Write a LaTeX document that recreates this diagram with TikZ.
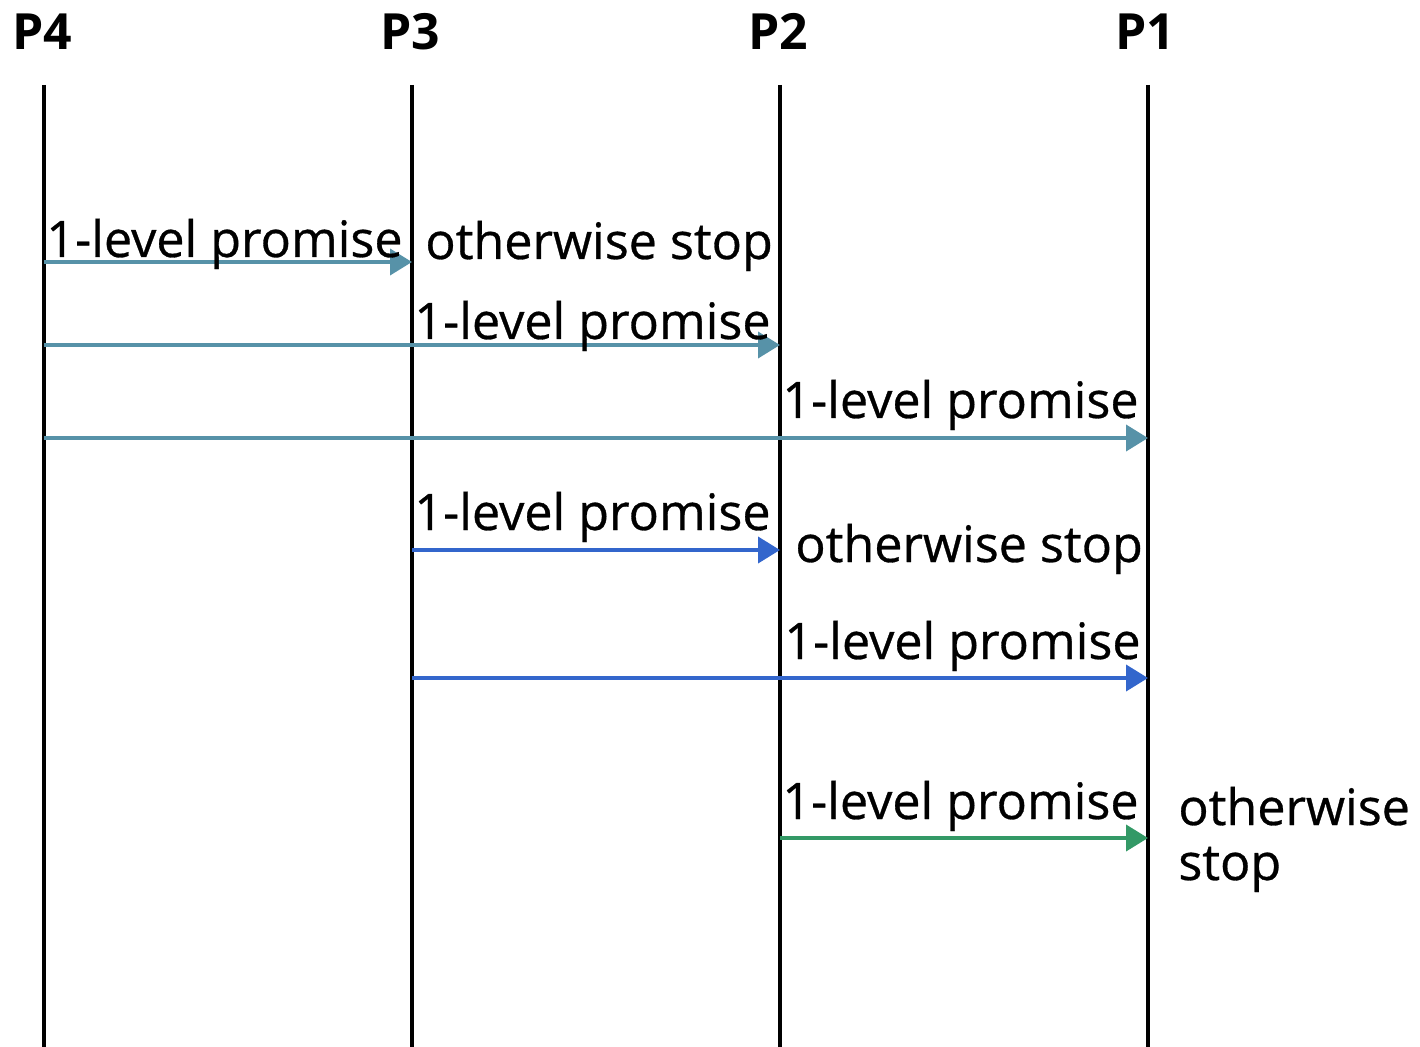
\documentclass[tikz,border=0pt]{standalone}
\usepackage{fontspec}
\setmainfont{Open Sans}
\usetikzlibrary{arrows.meta}

\definecolor{msgteal}{HTML}{5792A8}
\definecolor{msgblue}{HTML}{3366CC}
\definecolor{msggreen}{HTML}{339966}

\tikzset{
  lifeline/.style={line width=2.8pt, black},
  msg/.style={line width=2.2pt, -{Triangle[length=0.44cm, width=0.52cm]}},
  msglabel/.style={anchor=base west, inner sep=0pt, font=\fontsize{28.6}{31.3}\selectfont\addfontfeature{FakeBold=0.6}},
  proc/.style={anchor=base, inner sep=0pt, font=\fontsize{28.4}{34}\selectfont\bfseries}
}

\begin{document}
\begin{tikzpicture}[x=0.02cm, y=-0.02cm]
    \useasboundingbox (0,0) rectangle (1420,1047);

    % Process names
    \node[proc] (n4) at (42,50) {P4};
    \node[proc] (n3) at (410,50) {P3};
    \node[proc] (n2) at (778,50) {P2};
    \node[proc] (n1) at (1145,50) {P1};

    % Lifelines
    \coordinate (p4t) at (44,85);   \coordinate (p4b) at (44,1047);
    \coordinate (p3t) at (412,85);  \coordinate (p3b) at (412,1047);
    \coordinate (p2t) at (780,85);  \coordinate (p2b) at (780,1047);
    \coordinate (p1t) at (1148,85); \coordinate (p1b) at (1148,1047);
    \draw[lifeline] (p4t) -- (p4b);
    \draw[lifeline] (p3t) -- (p3b);
    \draw[lifeline] (p2t) -- (p2b);
    \draw[lifeline] (p1t) -- (p1b);

    % Messages from P4
    \coordinate (m1s) at (44,262);  \coordinate (m1e) at (412,262);
    \coordinate (m2s) at (44,345);  \coordinate (m2e) at (780,345);
    \coordinate (m3s) at (44,438);  \coordinate (m3e) at (1148,438);
    \draw[msg, msgteal] (m1s) -- (m1e);
    \draw[msg, msgteal] (m2s) -- (m2e);
    \draw[msg, msgteal] (m3s) -- (m3e);
    \node[msglabel] (l1) at (46,257) {1-level promise};
    \node[msglabel] (s1) at (425,259) {otherwise stop};
    \node[msglabel] (l2) at (414,339) {1-level promise};
    \node[msglabel] (l3) at (782,418) {1-level promise};

    % Messages from P3
    \coordinate (m4s) at (412,550); \coordinate (m4e) at (780,550);
    \coordinate (m5s) at (412,678); \coordinate (m5e) at (1148,678);
    \draw[msg, msgblue] (m4s) -- (m4e);
    \draw[msg, msgblue] (m5s) -- (m5e);
    \node[msglabel] (l4) at (414,530) {1-level promise};
    \node[msglabel] (s4) at (795,562) {otherwise stop};
    \node[msglabel] (l5) at (784,659) {1-level promise};

    % Message from P2
    \coordinate (m6s) at (780,838); \coordinate (m6e) at (1148,838);
    \draw[msg, msggreen] (m6s) -- (m6e);
    \node[msglabel] (l6) at (782,819) {1-level promise};
    \node[msglabel, align=left] (s6) at (1178,880) {otherwise\\stop};

\end{tikzpicture}
\end{document}
